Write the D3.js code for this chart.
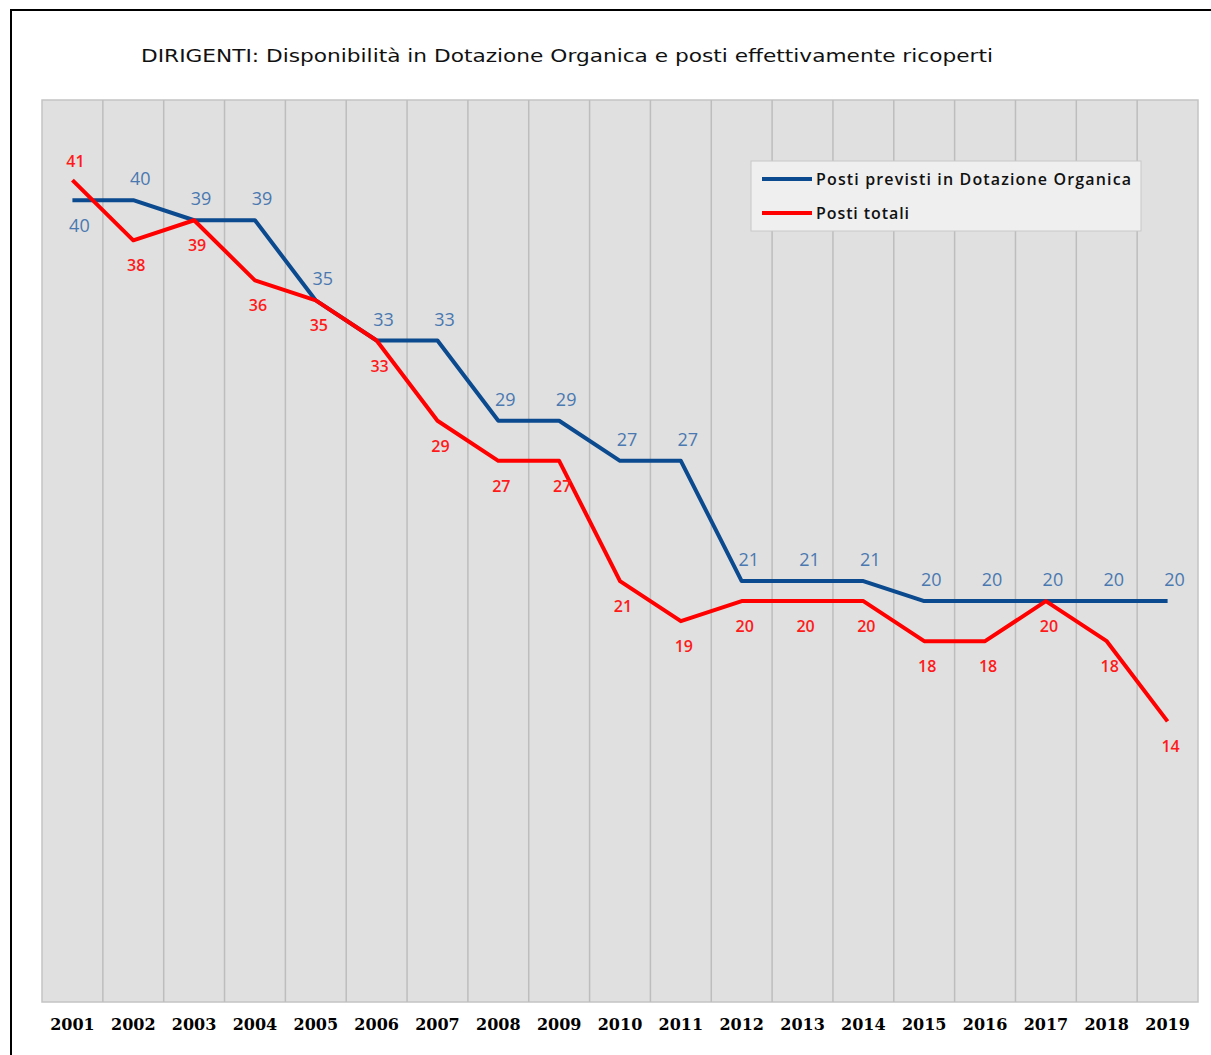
<!DOCTYPE html>
<html>
<head>
<meta charset="utf-8">
<script src="https://cdn.jsdelivr.net/npm/d3@7"></script>
<style>
  body { margin: 0; background: #fff; }
</style>
</head>
<body>
<div id="chart"></div>
<script>
const years = ["2001","2002","2003","2004","2005","2006","2007","2008","2009","2010",
  "2011","2012","2013","2014","2015","2016","2017","2018","2019"];
const postiPrevisti = [40,40,39,39,35,33,33,29,29,27,27,21,21,21,20,20,20,20,20];
const postiTotali = [41,38,39,36,35,33,29,27,27,21,19,20,20,20,18,18,20,18,14];
// label side: 1 = above the line, -1 = below
const previstiSide = [-1,1,1,1,1,1,1,1,1,1,1,1,1,1,1,1,1,1,1];
const totaliSide = [1,-1,-1,-1,-1,-1,-1,-1,-1,-1,-1,-1,-1,-1,-1,-1,-1,-1,-1];
const seriesNames = ["Posti previsti in Dotazione Organica", "Posti totali"];

const W = 1211, H = 1055;
const margin = {top: 100, right: 13, bottom: 53, left: 42};
const width = W - margin.left - margin.right;
const height = H - margin.top - margin.bottom;

const svg = d3.select("#chart").append("svg")
  .attr("width", W)
  .attr("height", H);

// outer frame
svg.append("path")
  .attr("d", `M11,${H} L11,10 L${W},10`)
  .attr("fill", "none")
  .attr("stroke", "#000")
  .attr("stroke-width", 2);

svg.append("text")
  .attr("x", 141)
  .attr("y", 62)
  .attr("textLength", 852)
  .attr("lengthAdjust", "spacingAndGlyphs")
  .attr("font-family", "DejaVu Sans, sans-serif")
  .attr("font-size", 18)
  .attr("fill", "#111")
  .text("DIRIGENTI: Disponibilità in Dotazione Organica e posti effettivamente ricoperti");

const g = svg.append("g")
  .attr("transform", `translate(${margin.left},${margin.top})`);

var x = d3.scaleBand()
  .domain(years)
  .range([0, width]);

var y = d3.scaleLinear()
  .domain([0, 45])
  .range([height, 0]);

// plot background
g.append("rect")
  .attr("width", width)
  .attr("height", height)
  .attr("fill", "#e0e0e0")
  .attr("stroke", "#c4c4c4")
  .attr("stroke-width", 1.5);

// vertical gridlines at category boundaries
g.selectAll(".grid")
  .data(years.slice(1))
  .enter().append("line")
  .attr("x1", d => x(d))
  .attr("x2", d => x(d))
  .attr("y1", 0)
  .attr("y2", height)
  .attr("stroke", "#bdbdbd")
  .attr("stroke-width", 1.5);

// X axis
const xAxis = g.append("g")
  .attr("transform", `translate(0,${height})`)
  .call(d3.axisBottom(x).tickSize(0).tickPadding(17));
xAxis.select(".domain").remove();
xAxis.selectAll("text")
  .attr("font-family", "DejaVu Serif, serif")
  .attr("font-weight", "bold")
  .attr("font-size", 16)
  .attr("fill", "#000");

const cx = d => x(d) + x.bandwidth() / 2;

const line = d3.line()
  .x((d, i) => cx(years[i]))
  .y(d => y(d));

g.append("path")
  .datum(postiPrevisti)
  .attr("fill", "none")
  .attr("stroke", "#0b4a8e")
  .attr("stroke-width", 4)
  .attr("stroke-linejoin", "round")
  .attr("d", line);

g.append("path")
  .datum(postiTotali)
  .attr("fill", "none")
  .attr("stroke", "#ff0000")
  .attr("stroke-width", 4)
  .attr("stroke-linejoin", "round")
  .attr("d", line);

// data labels
g.selectAll(".lblPrev")
  .data(postiPrevisti)
  .enter().append("text")
  .attr("x", (d, i) => cx(years[i]) + 7)
  .attr("y", (d, i) => y(d) + (previstiSide[i] > 0 ? -15 : 32))
  .attr("text-anchor", "middle")
  .attr("font-family", "Open Sans, sans-serif")
  .attr("font-size", 18)
  .attr("fill", "#4a78b0")
  .text(d => d);

g.selectAll(".lblTot")
  .data(postiTotali)
  .enter().append("text")
  .attr("x", (d, i) => cx(years[i]) + 3)
  .attr("y", (d, i) => y(d) + (totaliSide[i] > 0 ? -13 : 31))
  .attr("text-anchor", "middle")
  .attr("font-family", "Open Sans, sans-serif")
  .attr("font-weight", 600)
  .attr("font-size", 16)
  .attr("fill", "#ff1a1a")
  .text(d => d);

// legend
const legend = svg.append("g")
  .attr("transform", "translate(751,161)");
legend.append("rect")
  .attr("width", 390)
  .attr("height", 70)
  .attr("fill", "#efefef")
  .attr("stroke", "#c8c8c8");
const colors = ["#0b4a8e", "#ff0000"];
const legendLen = [315, 93];
seriesNames.forEach(function(name, i) {
  legend.append("line")
    .attr("x1", 11).attr("x2", 61)
    .attr("y1", 18 + i * 34).attr("y2", 18 + i * 34)
    .attr("stroke", colors[i])
    .attr("stroke-width", 4);
  legend.append("text")
    .attr("x", 65)
    .attr("y", 24 + i * 34)
    .attr("textLength", legendLen[i])
    .attr("font-family", "Open Sans, sans-serif")
    .attr("font-weight", 600)
    .attr("font-size", 16)
    .attr("fill", "#111")
    .text(name);
});
</script>
</body>
</html>
